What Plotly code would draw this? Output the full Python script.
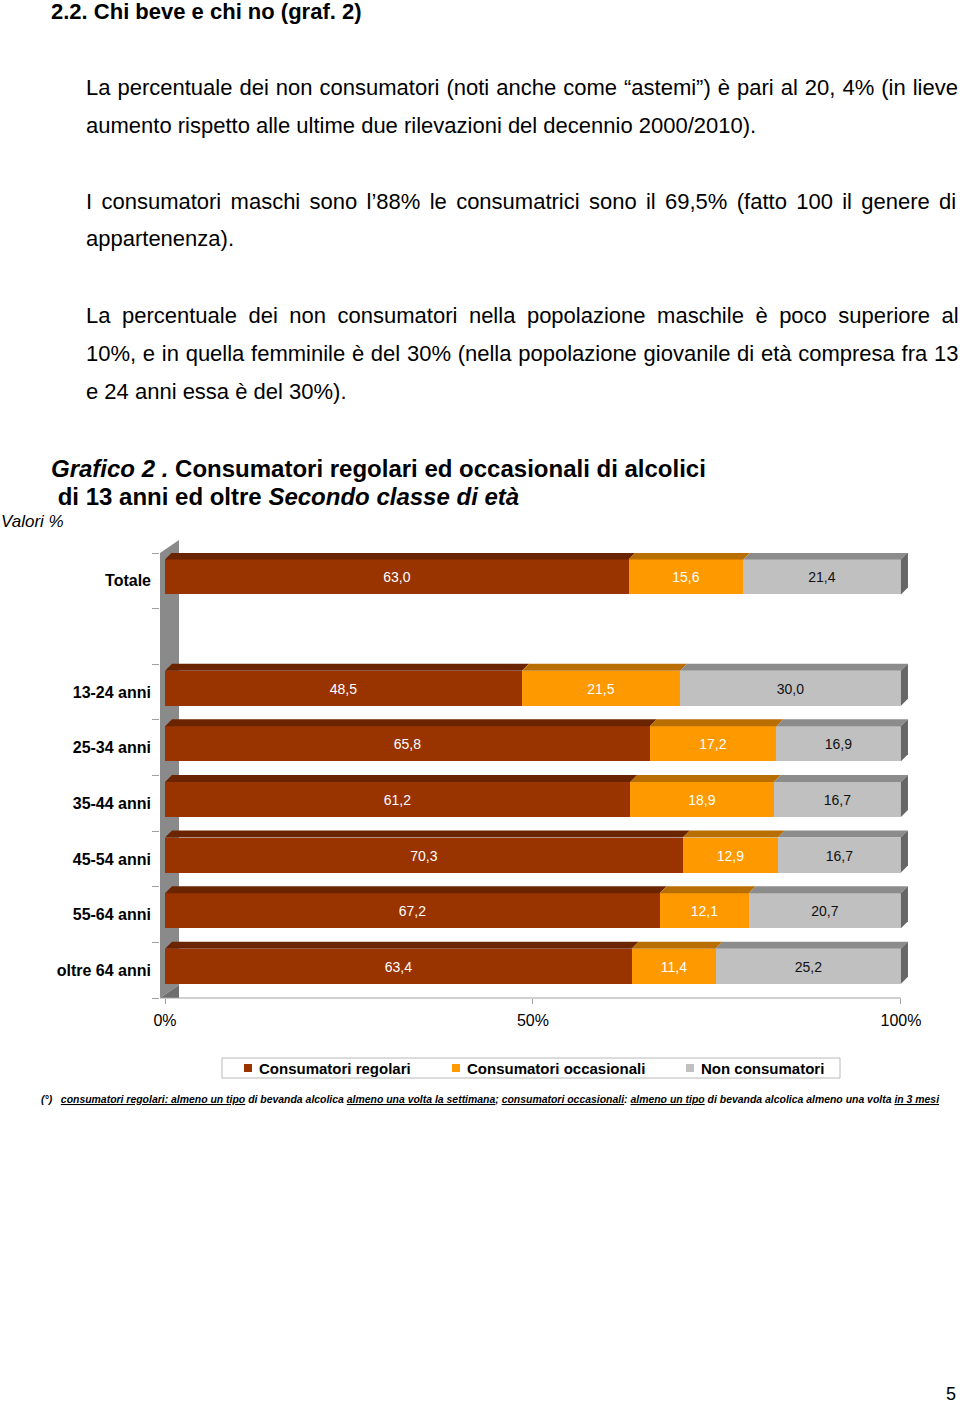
import plotly.graph_objects as go

# ---------------- data ----------------
categorie = ["Totale", "13-24 anni", "25-34 anni", "35-44 anni", "45-54 anni", "55-64 anni", "oltre 64 anni"]
regolari = [63.0, 48.5, 65.8, 61.2, 70.3, 67.2, 63.4]
occasionali = [15.6, 21.5, 17.2, 18.9, 12.9, 12.1, 11.4]
non_consumatori = [21.4, 30.0, 16.9, 16.7, 16.7, 20.7, 25.2]
serie_nomi = ["Consumatori regolari", "Consumatori occasionali", "Non consumatori"]
x_tick_vals = [0, 50, 100]
x_tick_text = ["0%", "50%", "100%"]

# ---------------- styling / layout constants ----------------
FONT = "Liberation Sans, Arial, sans-serif"
W, H = 960, 1405
PL, PR, PT, PB = 160, 912, 553, 998          # plot area in pixels
XMIN, XMAX = -0.68, 101.5
YTOP, YBOT = -0.5, 7.5
front_col = ["#993300", "#FF9900", "#C0C0C0"]
top_col = ["#6B2400", "#B86E00", "#8C8C8C"]
side_col = "#666666"
text_col = ["white", "white", "#111111"]
BAR_W = 0.63
BAR_OFF = -0.385
px_per_x = (PR - PL) / (XMAX - XMIN)
px_per_y = (PB - PT) / (YBOT - YTOP)
DX = 7 / px_per_x
DY = 7 / px_per_y

# Totale first, one empty slot, then the age classes
posizioni = [0] + [i + 1 for i in range(1, len(categorie))]


def fmt(v):
    return f"{v:.1f}".replace(".", ",")


def xp(px):
    return (px - PL) / (PR - PL)


def yp(py):
    return (PB - py) / (PB - PT)


fig = go.Figure()
serie = [regolari, occasionali, non_consumatori]
for k, vals in enumerate(serie):
    fig.add_trace(go.Bar(
        y=posizioni, x=vals, orientation="h", name=serie_nomi[k],
        marker=dict(color=front_col[k], line=dict(width=0)),
        width=BAR_W, offset=BAR_OFF,
        text=[fmt(v) for v in vals], textposition="inside",
        insidetextanchor="middle", textangle=0,
        textfont=dict(color=text_col[k], size=14, family=FONT),
        hoverinfo="x+name", showlegend=False,
    ))

shapes = []
# back wall (decoration)
shapes.append(dict(type="path", xref="paper", yref="paper", layer="below",
                   path=f"M {xp(160)},{yp(553)} L {xp(179)},{yp(540)} L {xp(179)},{yp(985)} L {xp(160)},{yp(998)} Z",
                   fillcolor="#8A8A8A", line=dict(width=0)))
shapes.append(dict(type="path", xref="paper", yref="paper", layer="below",
                   path=f"M {xp(160)},{yp(998)} L {xp(179)},{yp(985)} L {xp(179)},{yp(998)} Z",
                   fillcolor="#6E6E6E", line=dict(width=0)))
# 3D top faces and right side faces, derived from normalised data
for i, pos in enumerate(posizioni):
    tot = regolari[i] + occasionali[i] + non_consumatori[i]
    start = 0.0
    yt = pos + BAR_OFF
    yb = pos + BAR_OFF + BAR_W
    for k, vals in enumerate(serie):
        end = start + vals[i] / tot * 100
        shapes.append(dict(type="path", xref="x", yref="y", layer="above",
                           path=f"M {start},{yt} L {end},{yt} L {end+DX},{yt-DY} L {start+DX},{yt-DY} Z",
                           fillcolor=top_col[k], line=dict(width=0)))
        start = end
    shapes.append(dict(type="path", xref="x", yref="y", layer="above",
                       path=f"M {start},{yb} L {start},{yt} L {start+DX},{yt-DY} L {start+DX},{yb-DY} Z",
                       fillcolor=side_col, line=dict(width=0)))
# x axis base line
shapes.append(dict(type="line", xref="paper", yref="paper", x0=0,
                   x1=(100 - XMIN) / (XMAX - XMIN), y0=0, y1=0,
                   line=dict(color="#A0A0A0", width=1)))

annotations = []


def ann(text, px, py, size, xanchor="left", color="black"):
    annotations.append(dict(text=text, x=xp(px), y=yp(py), xref="paper", yref="paper",
                            xanchor=xanchor, yanchor="middle", showarrow=False,
                            font=dict(family=FONT, size=size, color=color)))


# legend drawn as a box with swatches and labels
shapes.append(dict(type="rect", xref="paper", yref="paper",
                   x0=xp(222), x1=xp(840), y0=yp(1078), y1=yp(1058),
                   fillcolor="white", line=dict(color="#B8B8B8", width=1)))
leg_x = [244, 452, 686]
for k, name in enumerate(serie_nomi):
    shapes.append(dict(type="rect", xref="paper", yref="paper",
                       x0=xp(leg_x[k]), x1=xp(leg_x[k] + 8), y0=yp(1072), y1=yp(1064),
                       fillcolor=front_col[k], line=dict(width=0)))
    ann("<b>" + name + "</b>", leg_x[k] + 13, 1068.5, 15)

ann("<b>2.2. Chi beve e chi no (graf. 2)</b>", 49, 12, 22)
# (text, y centre, extra word spacing in px to mimic justified lines)
body = [
    ("La percentuale dei non consumatori (noti anche come “astemi”) è pari al 20, 4% (in lieve", 87, 0.9),
    ("aumento rispetto alle ultime due rilevazioni del decennio 2000/2010).", 125, 0),
    ("I consumatori maschi sono l’88% le consumatrici sono il 69,5% (fatto 100 il genere di", 201, 3.2),
    ("appartenenza).", 239, 0),
    ("La percentuale dei non consumatori nella popolazione maschile è poco superiore al", 315, 5.4),
    ("10%, e in quella femminile è del 30% (nella popolazione giovanile di età compresa fra 13", 353, 0.6),
    ("e 24 anni essa è del 30%).", 391, 0),
]
for t, y, ws in body:
    if ws:
        t = f'<span style="word-spacing:{ws}px">' + t + "</span>"
    ann(t, 84, y, 22)

ann("<b><i>Grafico 2 .</i> Consumatori regolari ed occasionali di alcolici</b>", 49, 468, 24)
ann("<b> di 13 anni ed oltre <i>Secondo classe di età</i></b>", 49, 496, 24)
ann("<i>Valori %</i>", -1, 521, 17)

U = '<span style="text-decoration:underline">'
E = "</span>"
foot = ("<b><i>(°)   " + U + "consumatori regolari: almeno un tipo" + E + " di bevanda alcolica "
        + U + "almeno una volta la settimana" + E + "; " + U + "consumatori occasionali" + E + ": "
        + U + "almeno un tipo" + E + " di bevanda alcolica almeno una volta " + U + "in 3 mesi" + E + "</i></b>")
ann(foot, 39, 1099, 10.45)
ann("5", 958, 1394, 18, xanchor="right")

fig.update_layout(
    width=W, height=H,
    margin=dict(l=PL, r=W - PR, t=PT, b=H - PB, pad=0),
    paper_bgcolor="white", plot_bgcolor="rgba(0,0,0,0)",
    barmode="stack", barnorm="percent", bargap=0,
    separators=",.",
    font=dict(family=FONT, color="black"),
    showlegend=False,
    xaxis=dict(range=[XMIN, XMAX], tickvals=x_tick_vals, ticktext=x_tick_text,
               ticks="outside", ticklen=5, tickcolor="#A0A0A0", showline=False,
               showgrid=False, zeroline=False, ticklabelstandoff=3,
               tickfont=dict(family=FONT, size=16, color="black")),
    yaxis=dict(range=[YBOT, YTOP], tickvals=posizioni, ticktext=categorie,
               ticks="", showline=False, showgrid=False, zeroline=False,
               ticklabelstandoff=8,
               tickfont=dict(family=FONT, size=16, weight="bold", color="black"),
               minor=dict(tickvals=[p - 0.5 for p in range(0, 9)], ticks="outside",
                          ticklen=7, tickcolor="#A0A0A0", showgrid=False)),
    shapes=shapes, annotations=annotations,
)

fig.write_html("out.html", config={"displayModeBar": False},
               post_script="document.body.style.margin='0px';document.body.style.overflow='hidden';")
